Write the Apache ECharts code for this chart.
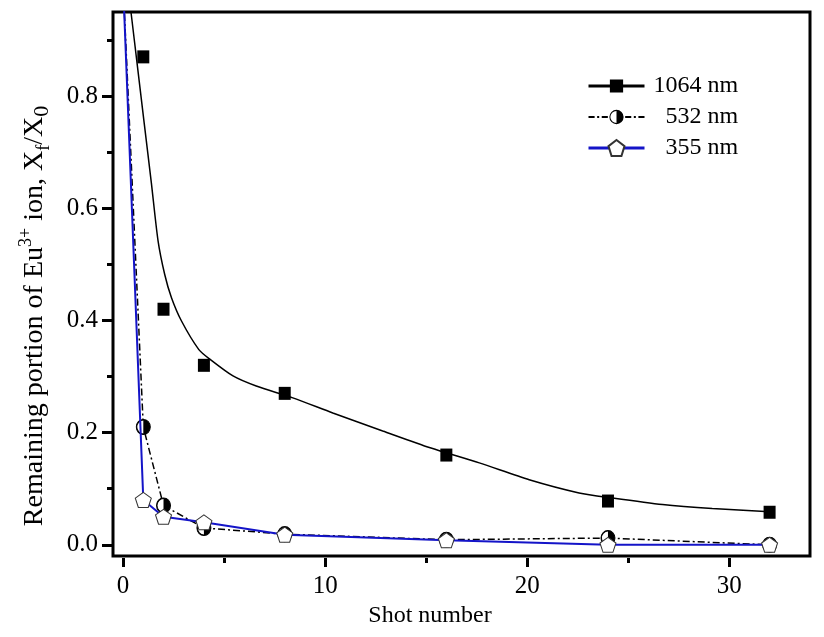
<!DOCTYPE html>
<html>
<head>
<meta charset="utf-8">
<script src="https://cdn.jsdelivr.net/npm/echarts@6/dist/echarts.min.js"></script>
<style>
html,body{margin:0;padding:0;background:#fff;}
#chart{width:824px;height:637px;}
</style>
</head>
<body>
<div id="chart"></div>
<script>
// ---- data ----
const shots1064 = [1, 2, 4, 8, 16, 24, 32];
const ratio1064 = [0.87, 0.42, 0.32, 0.27, 0.16, 0.078, 0.058];

// fitted curve through the 1064 nm points
const fitX = [0.39, 0.72, 1.05, 1.4, 1.73, 2.06, 2.39, 2.89, 3.75, 4.29, 5.44, 6.59, 8.4, 10.38, 12.85, 15.2, 17.63, 20.1, 22.57, 24.2, 26.7, 29.16, 32];
const fitY = [0.95, 0.85, 0.75, 0.645, 0.542, 0.482, 0.441, 0.399, 0.348, 0.331, 0.301, 0.283, 0.262, 0.235, 0.203, 0.173, 0.146, 0.116, 0.0925, 0.0836, 0.0718, 0.0646, 0.059];

const shots532 = [0, 1, 2, 4, 8, 16, 24, 32];
const ratio532 = [1.0, 0.21, 0.07, 0.03, 0.019, 0.009, 0.012, 0.0];

const shots355 = [0, 1, 2, 4, 8, 16, 24, 32];
const ratio355 = [1.0, 0.08, 0.05, 0.04, 0.018, 0.008, 0.0, 0.0];

const legendNames = ['1064 nm', '532 nm', '355 nm'];
const xMajorTicks = [0, 10, 20, 30];
const xMinorTicks = [5, 15, 25];
const yMajorTicks = [0, 0.2, 0.4, 0.6, 0.8];
const yMinorTicks = [0.1, 0.3, 0.5, 0.7, 0.9];

// ---- styling ----
const F = 'Liberation Serif';
const BLUE = '#1414c8';
const PENTA = 'path://M0,-1L0.951,-0.309L0.588,0.809L-0.588,0.809L-0.951,-0.309Z';
const HALF = 'path://M1,0A1,1 0 1,1 -1,0A1,1 0 1,1 1,0Z' +
             'M0.86,0A0.86,0.86 0 1,0 -0.86,0A0.86,0.86 0 1,0 0.86,0Z' +
             'M0,-0.86A0.86,0.86 0 0,1 0,0.86Z';
const ICON1064 = 'path://M0,5H21V0H34V5H55V8H34V13H21V8H0Z';
const ICON532 = 'path://M34.5,7A7,7 0 1,1 20.5,7A7,7 0 1,1 34.5,7Z' +
                'M33.5,7A6,6 0 1,0 21.5,7A6,6 0 1,0 33.5,7Z' +
                'M27.5,1A6,6 0 0,1 27.5,13Z' +
                'M0,6H6V8H0Z M8.5,6H10.5V8H8.5Z M13,6H19V8H13Z' +
                'M36,6H42V8H36Z M44.5,6H46.5V8H44.5Z M49,6H55V8H49Z';

const pairs = (xs, ys) => xs.map((x, i) => [x, ys[i]]);

const chart = echarts.init(document.getElementById('chart'), null, {renderer: 'canvas'});

const xBase = {
  type: 'value', min: -0.5, max: 34, position: 'bottom', offset: 2,
  axisLine: {show: false, onZero: false}, splitLine: {show: false}
};
const yBase = {
  type: 'value', min: -0.02, max: 0.95, position: 'left',
  axisLine: {show: false, onZero: false}, splitLine: {show: false}
};

const option = {
  animation: false,
  backgroundColor: '#fff',
  grid: {
    left: 113, right: 14, top: 12, bottom: 81,
    show: true, borderColor: '#000', borderWidth: 3,
    containLabel: false, outerBoundsMode: 'none'
  },
  legend: {
    orient: 'vertical', left: 587, top: 74, padding: 0,
    itemWidth: 56, itemHeight: 20, itemGap: 7,
    selectedMode: false,
    textStyle: {
      fontFamily: F, fontSize: 24, color: '#000', padding: [0, 0, 0, 4],
      rich: {s: {width: 12, fontFamily: F, fontSize: 24}}
    },
    formatter: n => n === legendNames[0] ? n : '{s| }' + n,
    data: [
      {name: legendNames[0], icon: ICON1064, itemStyle: {color: '#000', borderWidth: 0, opacity: 1}},
      {name: legendNames[1], icon: ICON532, itemStyle: {color: '#000', borderWidth: 0, opacity: 1}},
      {name: legendNames[2], lineStyle: {width: 3}}
    ]
  },
  xAxis: [
    Object.assign({}, xBase, {
      axisTick: {customValues: xMajorTicks, length: 9, lineStyle: {color: '#000', width: 3}},
      axisLabel: {customValues: xMajorTicks, fontFamily: F, fontSize: 25, color: '#000', margin: 16},
      name: 'Shot number', nameLocation: 'middle', nameGap: 43,
      nameTextStyle: {fontFamily: F, fontSize: 24, color: '#000', padding: [0, 63, 0, 0]}
    }),
    Object.assign({}, xBase, {
      axisTick: {customValues: xMinorTicks, length: 5, lineStyle: {color: '#000', width: 3}},
      axisLabel: {show: false}
    })
  ],
  yAxis: [
    Object.assign({}, yBase, {
      axisTick: {customValues: yMajorTicks, length: 11, lineStyle: {color: '#000', width: 3}},
      axisLabel: {customValues: yMajorTicks, fontFamily: F, fontSize: 25, color: '#000', margin: 15,
                  formatter: v => v.toFixed(1)},
      name: '{a|Remaining portion of Eu}{sup|3+}{a| ion, X}{sub|f}{a|/X}{sub0|0}',
      nameLocation: 'middle', nameGap: 60,
      nameTextStyle: {
        fontFamily: F, fontSize: 28, color: '#000', padding: [0, 64, 0, 0],
        rich: {
          a: {fontFamily: F, fontSize: 28, color: '#000', lineHeight: 36},
          sup: {fontFamily: F, fontSize: 18, color: '#000', lineHeight: 18, verticalAlign: 'top'},
          sub: {fontFamily: F, fontSize: 18, color: '#000', lineHeight: 18, verticalAlign: 'bottom'},
          sub0: {fontFamily: F, fontSize: 22, color: '#000', lineHeight: 22, verticalAlign: 'bottom'}
        }
      }
    }),
    Object.assign({}, yBase, {
      axisTick: {customValues: yMinorTicks, length: 6, lineStyle: {color: '#000', width: 3}},
      axisLabel: {show: false}
    })
  ],
  series: [
    {
      name: '1064 nm fit', type: 'line', xAxisIndex: 0, yAxisIndex: 0,
      data: pairs(fitX, fitY), symbol: 'none', smooth: 0.25,
      lineStyle: {color: '#000', width: 1.5}, silent: true, z: 2
    },
    {
      name: legendNames[0], type: 'scatter', xAxisIndex: 0, yAxisIndex: 0,
      data: pairs(shots1064, ratio1064), symbol: 'rect', symbolSize: [12, 13],
      itemStyle: {color: '#000', opacity: 1}, z: 3
    },
    {
      name: legendNames[1], type: 'line', xAxisIndex: 0, yAxisIndex: 0,
      data: pairs(shots532, ratio532), symbol: 'circle', symbolSize: [14, 15], showAllSymbol: true,
      itemStyle: {color: '#fff', borderColor: '#000', borderWidth: 1, opacity: 1},
      lineStyle: {color: '#000', width: 1.5, type: [7, 3, 2, 3]}, z: 4
    },
    {
      name: '532 nm half', type: 'scatter', xAxisIndex: 0, yAxisIndex: 0,
      data: pairs(shots532, ratio532), symbol: HALF, symbolSize: [14, 15],
      itemStyle: {color: '#000', opacity: 1}, z: 5
    },
    {
      name: legendNames[2], type: 'line', xAxisIndex: 0, yAxisIndex: 0,
      data: pairs(shots355, ratio355), symbol: PENTA, symbolSize: [16, 15], showAllSymbol: true,
      itemStyle: {color: '#fff', borderColor: '#333', borderWidth: 1, opacity: 1},
      lineStyle: {color: BLUE, width: 2}, z: 6
    }
  ]
};
chart.setOption(option);
</script>
</body>
</html>
